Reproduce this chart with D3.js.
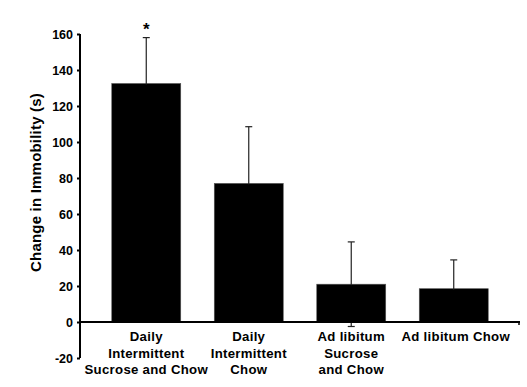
<!DOCTYPE html>
<html>
<head>
<meta charset="utf-8">
<script src="https://cdn.jsdelivr.net/npm/d3@7"></script>
<style>
  body { margin: 0; background: #fff; }
  text { font-family: "Liberation Sans", Arial, sans-serif; font-weight: bold; fill: #000; }
</style>
</head>
<body>
<script>
    const chart_width = 527;
    const chart_height = 387;

    // data
    const groups = [
      ["Daily", "Intermittent", "Sucrose and Chow"],
      ["Daily", "Intermittent", "Chow"],
      ["Ad libitum", "Sucrose", "and Chow"],
      ["Ad libitum Chow"]
    ];
    const means = [132.5, 77, 21, 18.5];
    const sems = [25.5, 31.5, 23.5, 16];
    const marks = ["*", "", "", ""];
    const yTicks = [-20, 0, 20, 40, 60, 80, 100, 120, 140, 160];

    const svg = d3.select('body').append('svg').attr('width', chart_width).attr('height', chart_height);

    const x = d3.scaleBand()
        .domain(d3.range(groups.length))
        .range([80, 520])
        .paddingInner(0.327)
        .paddingOuter(0.31);

    const y = d3.scaleLinear().domain([-20, 160]).range([358, 34]);

    // bars
    svg.selectAll('rect.bar')
        .data(means)
        .enter()
        .append('rect')
          .attr('class', 'bar')
          .attr('x', (d, i) => x(i))
          .attr('width', x.bandwidth())
          .attr('y', d => y(d))
          .attr('height', d => y(0) - y(d))
          .attr('fill', '#000')
          .attr('stroke', '#555')
          .attr('stroke-width', 0.6);

    // error bars (symmetric, lower half mostly hidden behind bar)
    const err = svg.append('g').attr('stroke', '#222').attr('stroke-width', 1.2);
    means.forEach((m, i) => {
      const cx = x(i) + x.bandwidth() / 2;
      const top = y(m + sems[i]);
      const bot = y(m - sems[i]);
      err.append('line').attr('x1', cx).attr('x2', cx).attr('y1', top).attr('y2', bot);
      err.append('line').attr('x1', cx - 3.5).attr('x2', cx + 3.5).attr('y1', top).attr('y2', top);
      err.append('line').attr('x1', cx - 3.5).attr('x2', cx + 3.5).attr('y1', bot).attr('y2', bot);
    });

    // redraw bars over lower error halves
    svg.selectAll('rect.cover')
        .data(means)
        .enter()
        .append('rect')
          .attr('x', (d, i) => x(i) + 1)
          .attr('width', x.bandwidth() - 2)
          .attr('y', d => y(d) + 1)
          .attr('height', d => y(0) - y(d) - 1)
          .attr('fill', '#000');

    // significance marks
    svg.selectAll('text.sig')
        .data(marks)
        .enter()
        .append('text')
          .attr('class', 'sig')
          .attr('x', (d, i) => x(i) + x.bandwidth() / 2)
          .attr('y', (d, i) => y(means[i] + sems[i]) - 3)
          .attr('text-anchor', 'middle')
          .style('font-size', '17px')
          .text(d => d);

    // y axis
    const yAxis = d3.axisLeft(y).tickValues(yTicks).tickSize(3).tickPadding(4).tickFormat(d => String(d));
    const ya = svg.append('g').attr('transform', 'translate(80,0)').call(yAxis);
    ya.select('.domain').attr('stroke', '#000').attr('stroke-width', 2).attr('d', `M0,${y(160)}V${y(-20)}`);
    ya.selectAll('.tick line').attr('stroke', '#000').attr('stroke-width', 2);
    ya.selectAll('.tick text').style('font-size', '12.5px').style('font-family', '"Liberation Sans", Arial, sans-serif').style('font-weight', 'bold');

    // x baseline at zero
    svg.append('line')
        .attr('x1', 80).attr('x2', 520)
        .attr('y1', y(0)).attr('y2', y(0))
        .attr('stroke', '#000').attr('stroke-width', 2);
    svg.append('line')
        .attr('x1', 519).attr('x2', 519)
        .attr('y1', y(0)).attr('y2', y(0) + 3)
        .attr('stroke', '#000').attr('stroke-width', 1.5);

    // category labels
    const labels = svg.selectAll('text.cat')
        .data(groups)
        .enter()
        .append('text')
          .attr('class', 'cat')
          .attr('text-anchor', 'middle')
          .style('font-size', '13.2px')
          .style('letter-spacing', '0.3px')
          .attr('transform', (d, i) => `translate(${x(i) + x.bandwidth() / 2 + (d.length === 1 ? 2 : 0)},341)`);
    labels.selectAll('tspan')
        .data(d => d)
        .enter()
        .append('tspan')
          .attr('x', 0)
          .attr('dy', (d, j) => j === 0 ? 0 : 16.7)
          .text(d => d);

    // y axis title
    svg.append('text')
        .attr('transform', 'translate(41,182.5) rotate(-90)')
        .attr('text-anchor', 'middle')
        .style('font-size', '15px')
        .style('letter-spacing', '0.2px')
        .text('Change in Immobility (s)');
</script>
</body>
</html>
